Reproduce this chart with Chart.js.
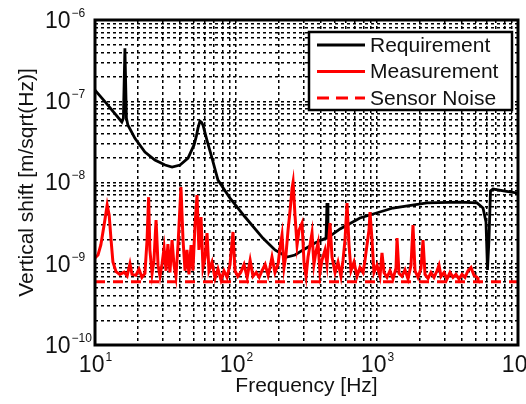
<!DOCTYPE html>
<html>
<head>
<meta charset="utf-8">
<script src="https://cdn.jsdelivr.net/npm/chart.js@4/dist/chart.umd.min.js"></script>
<style>
  html, body { margin: 0; padding: 0; background: #fff; }
  #wrap { width: 526px; height: 404px; }
</style>
</head>
<body>
<div id="wrap"><canvas id="shiftChart" width="526" height="404"></canvas></div>
<script>
// Requirement curve: frequency [Hz] / vertical shift [m/sqrt(Hz)]
const reqFreq = [10, 11.8, 15.5, 15.9, 16.3, 16.7, 17.1, 19.2, 22.6, 26.6, 31.4, 35.2, 40.1, 45.7,
  50.4, 52.5, 53.8, 55.5, 57, 58.3, 62.2, 67.6, 74.5, 90.7, 116, 155, 189, 230, 262, 299, 363,
  435, 442, 449, 547, 757, 1299, 2263, 3879, 5117, 5647, 5929, 6076, 6224, 6380, 6647, 8087, 10000];
const reqValue = [1.37e-7, 9.8e-8, 5.56e-8, 6.2e-8, 4.5e-7, 6.2e-8, 5.1e-8, 3.5e-8, 2.37e-8, 1.89e-8,
  1.64e-8, 1.55e-8, 1.64e-8, 2.0e-8, 2.9e-8, 3.8e-8, 4.7e-8, 5.7e-8, 5.5e-8, 5.1e-8, 3.33e-8, 2.0e-8,
  1.07e-8, 6.4e-9, 3.76e-9, 2.07e-9, 1.48e-9, 1.21e-9, 1.28e-9, 1.48e-9, 1.80e-9, 2.07e-9, 5.6e-9,
  2.1e-9, 2.68e-9, 3.66e-9, 4.85e-9, 5.6e-9, 5.75e-9, 5.6e-9, 4.85e-9, 3.27e-9, 8.4e-10, 1.96e-9,
  7.85e-9, 8.3e-9, 7.85e-9, 7.4e-9];

// Measured spectrum
const measFreq = [10, 10.5, 11.0, 11.6, 12.2, 12.6, 13.0, 13.4, 14.1, 15.0, 16.1, 16.9, 17.7, 18.3,
  19.5, 20.5, 21.5, 22.6, 23.4, 24.0, 24.5, 25.4, 26.2, 27.1, 28.0, 28.9, 29.9, 30.9, 31.9, 32.9,
  34.0, 35.2, 36.3, 37.5, 38.8, 40.7, 42.1, 43.5, 44.9, 46.4, 48.0, 49.5, 51.2, 52.9, 54.6, 56.5,
  58.3, 60.3, 62.3, 64.3, 67.6, 71.0, 74.5, 78.3, 82.2, 86.4, 90.7, 95.2, 98.4, 103, 108, 114, 120,
  126, 132, 139, 146, 153, 161, 169, 174, 180, 189, 199, 205, 212, 219, 226, 234, 242, 250, 254,
  262, 271, 280, 294, 304, 314, 324, 335, 346, 357, 369, 382, 394, 407, 428, 442, 464, 480, 504,
  529, 555, 574, 593, 613, 633, 654, 687, 722, 757, 796, 822, 849, 878, 892, 922, 952, 1000, 1050,
  1085, 1121, 1178, 1237, 1299, 1364, 1387, 1432, 1504, 1580, 1659, 1743, 1800, 1860, 1953, 2052,
  2120, 2190, 2300, 2415, 2537, 2665, 2753, 2844, 2987, 3137, 3294, 3460, 3634, 3816, 4007, 4209,
  4420, 4642, 4875, 5120, 5203];
const measValue = [1.18e-9, 1.28e-9, 1.70e-9, 3.0e-9, 5.28e-9, 3.98e-9, 1.96e-9, 1.05e-9, 8.0e-10,
  7.4e-10, 7.9e-10, 7.1e-10, 1.0e-9, 7.4e-10, 7.2e-10, 8.6e-10, 6.8e-10, 7.6e-10, 1.96e-9, 6.6e-9,
  1.48e-9, 7.6e-10, 1.1e-9, 3.45e-9, 9.6e-10, 7.0e-10, 1.0e-9, 1.56e-9, 8.2e-10, 1.75e-9, 7.8e-10,
  1.96e-9, 9.8e-10, 7.0e-10, 1.70e-9, 8.8e-9, 1.96e-9, 8.2e-10, 1.48e-9, 7.4e-10, 1.70e-9, 8.2e-10,
  3.0e-9, 7.0e-9, 1.48e-9, 3.76e-9, 9.0e-10, 1.2e-9, 2.39e-9, 8.2e-10, 1.05e-9, 6.6e-10, 8.6e-10,
  6.3e-10, 8.2e-10, 6.8e-10, 9.8e-10, 2.46e-9, 8.2e-10, 7.0e-10, 7.8e-10, 9.8e-10, 6.8e-10, 1.1e-9,
  7.0e-10, 7.8e-10, 6.8e-10, 8.2e-10, 9.8e-10, 7.2e-10, 9.0e-10, 1.21e-9, 7.8e-10, 1.0e-9, 1.56e-9,
  2.26e-9, 9.0e-10, 1.28e-9, 2.6e-9, 4.59e-9, 8.55e-9, 1.01e-8, 3.98e-9, 1.70e-9, 2.6e-9, 3.17e-9,
  1.0e-9, 7.0e-10, 1.2e-9, 1.70e-9, 2.39e-9, 9.8e-10, 1.4e-9, 1.80e-9, 7.8e-10, 1.1e-9, 1.48e-9,
  9.8e-10, 3.17e-9, 1.2e-9, 7.8e-10, 1.05e-9, 7.0e-10, 1.1e-9, 1.96e-9, 5.6e-9, 1.70e-9, 8.2e-10,
  1.05e-9, 7.0e-10, 9.0e-10, 7.8e-10, 1.1e-9, 1.70e-9, 2.6e-9, 4.33e-9, 1.96e-9, 7.8e-10, 9.6e-10,
  7.0e-10, 1.36e-9, 7.8e-10, 6.8e-10, 8.2e-10, 6.5e-10, 8.8e-10, 2.07e-9, 7.6e-10, 7.0e-10, 8.4e-10,
  6.5e-10, 9.6e-10, 3.0e-9, 8.2e-10, 6.8e-10, 8.8e-10, 1.96e-9, 7.4e-10, 6.6e-10, 7.8e-10, 6.8e-10,
  8.2e-10, 9.6e-10, 7.0e-10, 7.8e-10, 6.5e-10, 7.8e-10, 6.8e-10, 7.4e-10, 6.5e-10, 7.4e-10, 6.8e-10,
  8.2e-10, 9.0e-10, 7.2e-10, 6.8e-10, 6.5e-10];

// Sensor noise floor
const noiseFreq = [10, 10000];
const noiseValue = [6.0e-10, 6.0e-10];

const seriesNames = ['Requirement', 'Measurement', 'Sensor Noise'];
const xTickExps = [1, 2, 3, 4];
const yTickExps = [-10, -9, -8, -7, -6];

const FONT = '"Liberation Sans", Arial, sans-serif';

function toPoints(xs, ys) {
  return xs.map((x, i) => ({ x: x, y: ys[i] }));
}

// grid lines at 1..9 x 10^n between the labelled decades
function decadeGrid(exps) {
  const out = [];
  for (let i = 0; i < exps.length - 1; i++) {
    for (let m = 1; m <= 9; m++) out.push(m * Math.pow(10, exps[i]));
  }
  out.push(Math.pow(10, exps[exps.length - 1]));
  return out;
}

function drawPower(ctx, exp, x, y, axis) {
  const sup = exp < 0 ? '\u2212' + (-exp) : String(exp);
  ctx.font = '23px ' + FONT;
  const wb = ctx.measureText('10').width;
  ctx.font = '12px ' + FONT;
  const ws = ctx.measureText(sup).width;
  const left = axis === 'x' ? x - (wb + ws) / 2 : 45;
  const baseY = axis === 'x' ? 366 : y + 1.5;
  ctx.textAlign = 'left';
  ctx.textBaseline = 'middle';
  ctx.font = '23px ' + FONT;
  ctx.fillText('10', left, baseY);
  ctx.font = '12px ' + FONT;
  ctx.fillText(sup, left + wb + 1, baseY - 8);
}

const framePlugin = {
  id: 'frame',
  afterDatasetsDraw(chart) {
    const { ctx, chartArea: a, scales } = chart;
    ctx.save();
    // axes box
    ctx.strokeStyle = '#000';
    ctx.lineWidth = 3;
    ctx.setLineDash([]);
    ctx.strokeRect(a.left, a.top, a.right - a.left, a.bottom - a.top);

    // tick labels
    ctx.fillStyle = '#111';
    xTickExps.forEach(e => drawPower(ctx, e, scales.x.getPixelForValue(Math.pow(10, e)), 0, 'x'));
    yTickExps.forEach(e => drawPower(ctx, e, 0, scales.y.getPixelForValue(Math.pow(10, e)), 'y'));

    // axis titles
    ctx.font = '21px ' + FONT;
    ctx.textAlign = 'center';
    ctx.textBaseline = 'middle';
    ctx.fillText('Frequency [Hz]', (a.left + a.right) / 2, 386);
    ctx.save();
    ctx.translate(27, (a.top + a.bottom) / 2);
    ctx.rotate(-Math.PI / 2);
    ctx.fillText('Vertical shift [m/sqrt(Hz)]', 0, 0);
    ctx.restore();

    // legend
    const lx = 309, ly = 32, lw = 203, lh = 78;
    ctx.fillStyle = '#fff';
    ctx.fillRect(lx, ly, lw, lh);
    ctx.lineWidth = 2.5;
    ctx.strokeStyle = '#000';
    ctx.strokeRect(lx, ly, lw, lh);
    chart.data.datasets.forEach((ds, i) => {
      const yy = 45 + i * 26.5;
      ctx.strokeStyle = ds.borderColor;
      ctx.lineWidth = ds.borderWidth;
      ctx.setLineDash(ds.borderDash ? [12, 7] : []);
      ctx.beginPath();
      ctx.moveTo(317, yy);
      ctx.lineTo(365, yy);
      ctx.stroke();
      ctx.setLineDash([]);
      ctx.fillStyle = '#111';
      ctx.font = '21px ' + FONT;
      ctx.textAlign = 'left';
      ctx.textBaseline = 'middle';
      ctx.fillText(ds.label, 370, yy + 1);
    });
    ctx.restore();
  }
};

const gridStyle = {
  color: '#000',
  lineWidth: 1.5,
  drawTicks: false
};

new Chart(document.getElementById('shiftChart'), {
  type: 'line',
  data: {
    datasets: [
      {
        label: seriesNames[0],
        data: toPoints(reqFreq, reqValue),
        borderColor: '#000',
        borderWidth: 2.8,
        pointRadius: 0,
        tension: 0,
        order: 3
      },
      {
        label: seriesNames[1],
        data: toPoints(measFreq, measValue),
        borderColor: '#ff0000',
        borderWidth: 3,
        pointRadius: 0,
        tension: 0,
        order: 1
      },
      {
        label: seriesNames[2],
        data: toPoints(noiseFreq, noiseValue),
        borderColor: '#ff0000',
        borderWidth: 3,
        borderDash: [10, 8],
        pointRadius: 0,
        tension: 0,
        order: 2
      }
    ]
  },
  options: {
    responsive: false,
    animation: false,
    devicePixelRatio: 1,
    layout: { padding: { left: 95, top: 20, right: 8, bottom: 59 } },
    plugins: {
      legend: { display: false },
      tooltip: { enabled: false }
    },
    scales: {
      x: {
        type: 'logarithmic',
        min: 10,
        max: 10000,
        afterBuildTicks: s => { s.ticks = decadeGrid(xTickExps).map(v => ({ value: v })); },
        ticks: { display: false, autoSkip: false },
        grid: gridStyle,
        border: { display: false, dash: [3, 3] }
      },
      y: {
        type: 'logarithmic',
        min: 1e-10,
        max: 1e-6,
        afterBuildTicks: s => { s.ticks = decadeGrid(yTickExps).map(v => ({ value: v })); },
        ticks: { display: false, autoSkip: false },
        grid: gridStyle,
        border: { display: false, dash: [3, 3] }
      }
    }
  },
  plugins: [framePlugin]
});
</script>
</body>
</html>
